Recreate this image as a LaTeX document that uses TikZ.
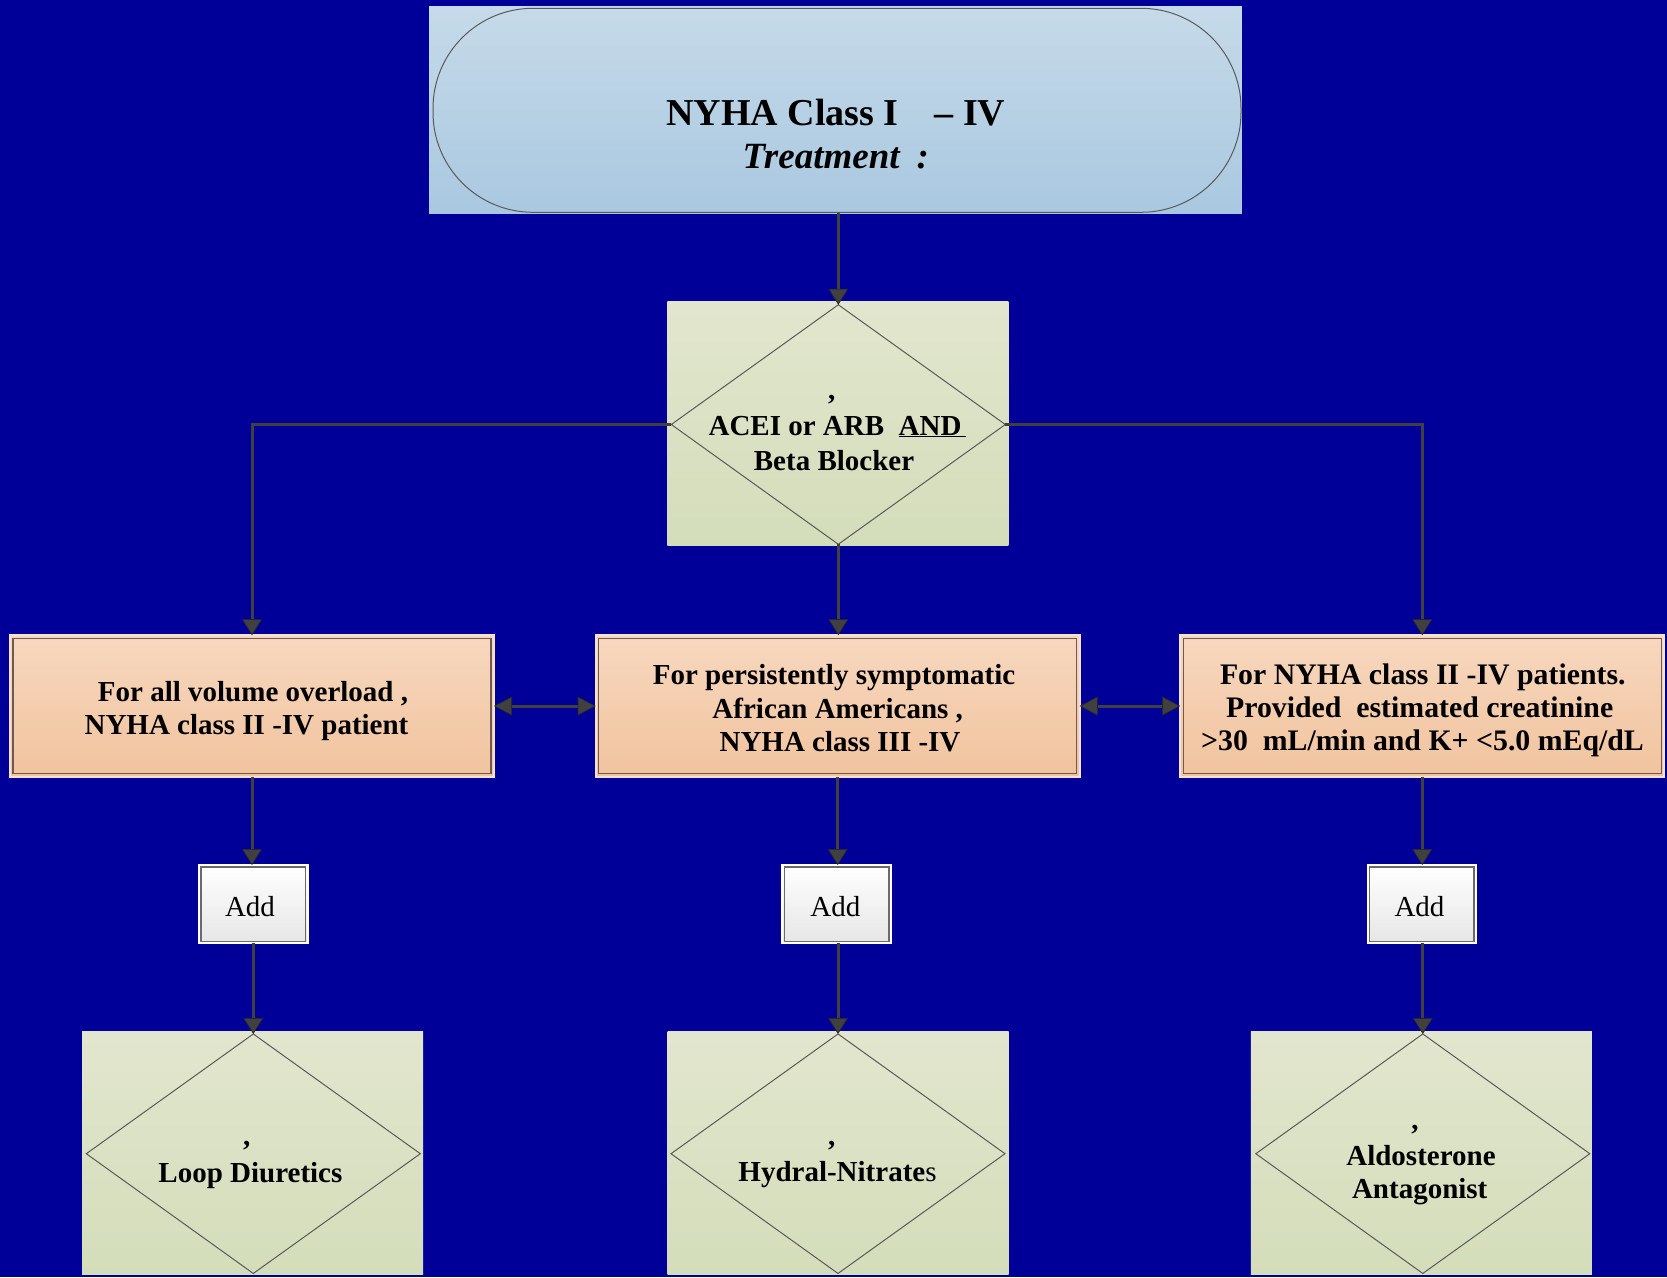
\documentclass[tikz,border=0pt]{standalone}
\usepackage{fontspec}
\setmainfont{Liberation Serif}
\usetikzlibrary{arrows.meta,shapes.geometric}
\definecolor{bg}{RGB}{0,0,153}
\definecolor{bluetop}{HTML}{C6DAE9}
\definecolor{bluebot}{HTML}{A9C8E0}
\definecolor{greentop}{HTML}{E2E6CE}
\definecolor{greenbot}{HTML}{D4DDBA}
\definecolor{orangetop}{HTML}{F7D8BF}
\definecolor{orangebot}{HTML}{F1C39E}
\definecolor{conn}{HTML}{404040}
\definecolor{rim}{HTML}{F6E2D2}
\definecolor{obord}{HTML}{6E5A4E}
\definecolor{pillline}{HTML}{5A5A5A}
\definecolor{abord}{HTML}{6A6A6A}
\definecolor{abot}{HTML}{E6E6E6}
\tikzset{
  gbox/.style={rectangle, top color=greentop, bottom color=greenbot, minimum width=341pt, minimum height=243.5pt, inner sep=0pt, outer sep=0pt},
  dmd/.style={diamond, draw=pillline, line width=1pt, minimum width=334pt, minimum height=239.5pt, inner sep=0pt, outer sep=0pt},
  obox/.style={rectangle, top color=orangetop, bottom color=orangebot, draw=rim, line width=2pt, minimum width=484pt, minimum height=141.5pt, inner sep=0pt, outer sep=0pt},
  oinner/.style={draw=obord, line width=1.3pt},
  abox/.style={rectangle, top color=white, bottom color=abot, draw=white, line width=2pt, minimum width=108.5pt, minimum height=78.3pt, inner sep=0pt, outer sep=0pt},
  ainner/.style={draw=abord, line width=1.3pt},
  lbl/.style={inner sep=0pt, anchor=base, font=\bfseries\fontsize{29}{35}\selectfont},
  rlbl/.style={inner sep=0pt, anchor=base, font=\bfseries\fontsize{29.8}{35}\selectfont},
  addlbl/.style={inner sep=0pt, anchor=base, font=\fontsize{29}{35}\selectfont},
  ttl/.style={inner sep=0pt, anchor=base, font=\bfseries\fontsize{38}{44}\selectfont},
  arr/.style={draw=conn, line width=3pt, -{Triangle[width=20pt,length=16pt,color=black!85,fill=conn,line width=0.6pt]}},
  darr/.style={draw=conn, line width=3pt, {Triangle[width=19pt,length=18pt,color=black!85,fill=conn,line width=0.6pt]}-{Triangle[width=19pt,length=18pt,color=black!85,fill=conn,line width=0.6pt]}},
}
\begin{document}
\begin{tikzpicture}[x=1pt,y=-1pt]
\fill[bg] (0,0) rectangle (1667,1277);
\useasboundingbox (0,0) rectangle (1667,1277);

% top terminal
\node[rectangle, top color=bluetop, bottom color=bluebot, minimum width=812.7pt, minimum height=206.5pt, inner sep=0pt, outer sep=0pt] (topbox) at (835.4,109.8) {};
\node[rectangle, rounded corners=100pt, draw=pillline, line width=1pt, minimum width=808pt, minimum height=204pt, inner sep=0pt] (pill) at (837,110.3) {};
\node[ttl] (t1) at (835.8,125) {NYHA Class I\hspace{36pt}–\ IV};
\node[ttl, font=\bfseries\itshape\fontsize{37}{44}\selectfont] (t2) at (835.8,168.3) {Treatment\hspace{17pt}:};

% first decision
\node[gbox] (d1box) at (837.8,423.3) {};
\node[dmd] (d1) at (838.3,424.5) {};
\node[lbl] (d1c) at (831.7,399.5) {,};
\node[lbl] (d1a) at (837.5,435) {ACEI or ARB\ \ \underline{AND\,}};
\node[lbl] (d1b) at (834,470) {Beta Blocker};

% orange boxes
\node[obox] (o1) at (252,706) {};
\node[obox] (o2) at (837.7,706) {};
\node[obox] (o3) at (1422.2,706) {};
\draw[oinner] ([shift={(3,-3)}]o1.south west) rectangle ([shift={(-3,3)}]o1.north east);
\draw[oinner] ([shift={(3,-3)}]o2.south west) rectangle ([shift={(-3,3)}]o2.north east);
\draw[oinner] ([shift={(3,-3)}]o3.south west) rectangle ([shift={(-3,3)}]o3.north east);
\node[lbl] (o1a) at (253,701) {For all volume overload ,};
\node[lbl] (o1b) at (246.5,734.3) {NYHA class II -IV patient};
\node[lbl] (o2a) at (834,684.3) {For persistently symptomatic};
\node[lbl] (o2b) at (837.7,718.3) {African Americans ,};
\node[lbl] (o2c) at (840,751) {NYHA class III -IV};
\node[rlbl] (o3a) at (1422.8,684.3) {For NYHA class II -IV patients.};
\node[rlbl] (o3b) at (1419.7,717.7) {Provided\ \ estimated creatinine};
\node[rlbl] (o3c) at (1422.5,750) {>30\ \ mL/min and K+ <5.0 mEq/dL};

% add boxes
\node[abox] (a1) at (253.3,904.2) {};
\node[abox] (a2) at (836.7,904.2) {};
\node[abox] (a3) at (1421.8,904.2) {};
\draw[ainner] ([shift={(2,-2)}]a1.south west) rectangle ([shift={(-2,2)}]a1.north east);
\draw[ainner] ([shift={(2,-2)}]a2.south west) rectangle ([shift={(-2,2)}]a2.north east);
\draw[ainner] ([shift={(2,-2)}]a3.south west) rectangle ([shift={(-2,2)}]a3.north east);
\node[addlbl] (a1t) at (250,916) {Add};
\node[addlbl] (a2t) at (835.3,916.7) {Add};
\node[addlbl] (a3t) at (1419.5,916.5) {Add};

% bottom decisions
\node[gbox] (d2box) at (252.7,1153) {};
\node[dmd] (d2) at (253.3,1153.7) {};
\node[gbox] (d3box) at (838,1153) {};
\node[dmd] (d3) at (838,1153.7) {};
\node[gbox] (d4box) at (1421.4,1153) {};
\node[dmd] (d4) at (1422.8,1153.7) {};
\node[lbl] (d2c) at (246.7,1145) {,};
\node[lbl] (d2t) at (250.4,1182.7) {Loop Diuretics};
\node[lbl] (d3c) at (831.7,1145) {,};
\node[lbl] (d3t) at (837.5,1181.7) {Hydral-Nitrate{\mdseries s}};
\node[lbl] (d4c) at (1415,1129) {,};
\node[lbl] (d4a) at (1421,1165) {Aldosterone};
\node[lbl] (d4b) at (1419.7,1198.3) {Antagonist};

% connectors
\draw[arr] (topbox.south -| d1.north) -- (d1.north);
\draw[arr] (d1.west) -| (o1.north);
\draw[arr] (d1.east) -| (o3.north);
\draw[arr] (d1.south) -- (d1.south |- o2.north);
\draw[darr] (o1.east) -- (o2.west);
\draw[darr] (o2.east) -- (o3.west);
\draw[arr] (o1.south) -- (o1.south |- a1.north);
\draw[arr] (o2.south) -- (o2.south |- a2.north);
\draw[arr] (o3.south) -- (o3.south |- a3.north);
\draw[arr] (a1.south -| d2.north) -- (d2.north);
\draw[arr] (a2.south -| d3.north) -- (d3.north);
\draw[arr] (a3.south -| d4.north) -- (d4.north);
\end{tikzpicture}
\end{document}
